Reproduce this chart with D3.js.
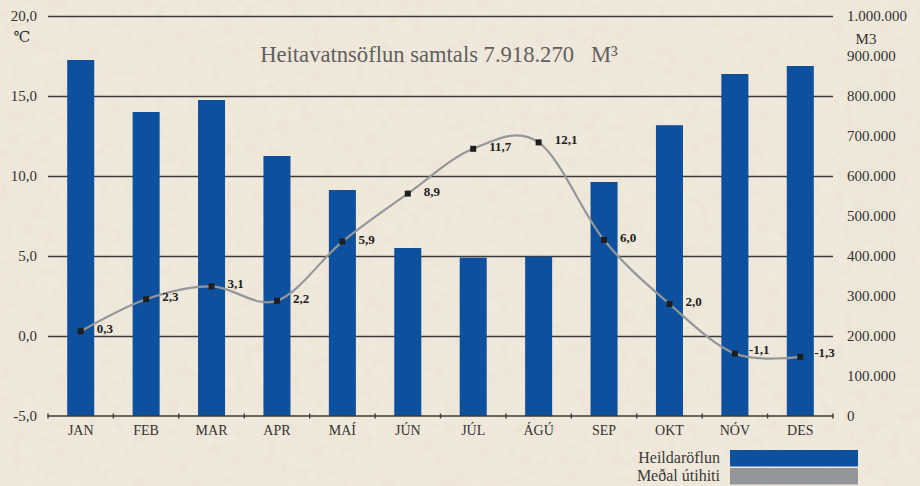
<!DOCTYPE html>
<html>
<head>
<meta charset="utf-8">
<script src="https://cdn.jsdelivr.net/npm/d3@7"></script>
<style>
  html, body { margin: 0; padding: 0; background: #efe6d8; }
  svg { display: block; }
  svg text { font-family: "Liberation Serif", "DejaVu Serif", serif; }
</style>
</head>
<body>
<svg id="chart" width="920" height="486"></svg>
<script>
// ---- data ----
const months = ["JAN","FEB","MAR","APR","MAÍ","JÚN","JÚL","ÁGÚ","SEP","OKT","NÓV","DES"];
const flow = [890000, 760000, 790000, 650000, 565000, 420000, 396000, 398000, 585000, 727000, 855000, 875000];
const temp = [0.3, 2.3, 3.1, 2.2, 5.9, 8.9, 11.7, 12.1, 6.0, 2.0, -1.1, -1.3];
const leftTicks = [-5, 0, 5, 10, 15, 20];
const rightTicks = [0, 100000, 200000, 300000, 400000, 500000, 600000, 700000, 800000, 900000, 1000000];
const titleText = "Heitavatnsöflun samtals 7.918.270\u00a0\u00a0\u00a0M³";
const legendLabels = ["Heildaröflun", "Meðal útihiti"];

const W = 920, H = 486;
const m = {left: 48, right: 833, top: 16, bottom: 416};
const font = '"Liberation Serif", "DejaVu Serif", serif';
const blue = "#0d509d", gray = "#94979a";

const loc = d3.formatLocale({decimal: ",", thousands: ".", grouping: [3], currency: ["", ""], minus: "-"});
const f1 = loc.format(".1f");
const fT = loc.format(",.0f");

const svg = d3.select("#chart");

// parchment background with subtle texture
const defs = svg.append("defs");
const filt = defs.append("filter").attr("id", "paper").attr("x", 0).attr("y", 0).attr("width", "100%").attr("height", "100%");
filt.append("feTurbulence").attr("type", "fractalNoise").attr("baseFrequency", 0.09).attr("numOctaves", 3).attr("seed", 3).attr("result", "n");
filt.append("feColorMatrix").attr("type", "matrix")
  .attr("values", "0 0 0 0 0.6  0 0 0 0 0.52  0 0 0 0 0.4  0 0 0 0.8 -0.36");
svg.append("rect").attr("width", W).attr("height", H).attr("fill", "#f0e8da");
svg.append("rect").attr("width", W).attr("height", H).attr("filter", "url(#paper)").attr("opacity", 0.3);

// scales
const xOuter = d3.scaleBand().domain(months).range([m.left, m.right]).padding(0);
const xBar = d3.scaleBand().domain(months).range([m.left, m.right]).paddingInner(0.587).paddingOuter(0.2935);
const yL = d3.scaleLinear().domain([-5, 20]).range([m.bottom, m.top]);
const yR = d3.scaleLinear().domain([0, 1000000]).range([m.bottom, m.top]);

// gridlines (left axis)
const gridAxis = d3.axisLeft(yL).tickValues(leftTicks.filter(d => d > -5))
  .tickSize(-(m.right - m.left)).tickFormat("");
const gG = svg.append("g").attr("transform", `translate(${m.left},0)`).call(gridAxis);
gG.select(".domain").remove();
gG.selectAll(".tick line").attr("stroke", "#3d3b39").attr("stroke-width", 1.6);

// left labels
const lAxis = d3.axisLeft(yL).tickValues(leftTicks).tickSize(0).tickPadding(0).tickFormat(f1);
const lG = svg.append("g").attr("transform", `translate(37,0)`).call(lAxis);
lG.select(".domain").remove();
lG.attr("font-family", null);
lG.selectAll("text").style("font-family", font).attr("font-size", 15).attr("fill", "#333");
svg.append("text").attr("x", 22).attr("y", 42).attr("text-anchor", "middle")
  .style("font-family", font).attr("font-size", 15).attr("fill", "#333").text("℃");

// right labels
const rAxis = d3.axisRight(yR).tickValues(rightTicks).tickSize(0).tickPadding(0).tickFormat(fT);
const rG = svg.append("g").attr("transform", `translate(847,0)`).call(rAxis);
rG.select(".domain").remove();
rG.attr("font-family", null);
rG.selectAll("text").style("font-family", font).attr("font-size", 15).attr("fill", "#333");
svg.append("text").attr("x", 866).attr("y", 44).attr("text-anchor", "middle")
  .style("font-family", font).attr("font-size", 15).attr("fill", "#333").text("M3");

// title
svg.append("text").attr("x", 439).attr("y", 62).attr("text-anchor", "middle")
  .style("font-family", font).attr("font-size", 22.6).attr("fill", "#606060").text(titleText);

// bars
svg.append("g").selectAll("rect").data(months).join("rect")
  .attr("x", d => xBar(d)).attr("width", xBar.bandwidth())
  .attr("y", (d, i) => yR(flow[i])).attr("height", (d, i) => yR(0) - yR(flow[i]))
  .attr("fill", blue);

// bottom axis
const bAxis = d3.axisBottom(xOuter).tickSize(0).tickPadding(9);
const bG = svg.append("g").attr("transform", `translate(0,${m.bottom})`).call(bAxis);
bG.attr("font-family", null);
bG.select(".domain").attr("stroke", "#3d3b39").attr("stroke-width", 1.6).attr("d", `M${m.left},0H${m.right}`);
bG.selectAll("text").style("font-family", font).attr("font-size", 14).attr("fill", "#333");
const bounds = months.map(d => xOuter(d)).concat([m.right]);
svg.append("g").selectAll("line").data(bounds).join("line")
  .attr("x1", d => d).attr("x2", d => d).attr("y1", m.bottom - 2.5).attr("y2", m.bottom + 2.5)
  .attr("stroke", "#3d3b39").attr("stroke-width", 1.4);

// temperature line
const pts = months.map((d, i) => [xBar(d) + xBar.bandwidth() / 2, yL(temp[i])]);
svg.append("path").datum(pts)
  .attr("d", d3.line().curve(d3.curveCardinal.tension(0)))
  .attr("fill", "none").attr("stroke", gray).attr("stroke-width", 2.2);
svg.append("g").selectAll("rect").data(pts).join("rect")
  .attr("x", d => d[0] - 3).attr("y", d => d[1] - 3).attr("width", 6).attr("height", 6)
  .attr("fill", "#1e1e1e");
svg.append("g").selectAll("text").data(pts).join("text")
  .attr("x", (d, i) => d[0] + (temp[i] < 0 ? 14 : 16)).attr("y", (d, i) => d[1] + (temp[i] < 0 ? 0 : 2))
  .style("font-family", font).attr("font-size", 13).attr("font-weight", "bold").attr("fill", "#222")
  .text((d, i) => f1(temp[i]));

// legend
const legColors = [blue, gray];
const lg = svg.append("g");
legendLabels.forEach((t, i) => {
  const y0 = 450 + i * 18;
  lg.append("rect").attr("x", 730).attr("y", y0).attr("width", 128).attr("height", 16.5).attr("fill", legColors[i]);
  lg.append("text").attr("x", 720).attr("y", y0 + 13).attr("text-anchor", "end")
    .style("font-family", font).attr("font-size", 16).attr("fill", "#3a3a3a").text(t);
});
</script>
</body>
</html>
